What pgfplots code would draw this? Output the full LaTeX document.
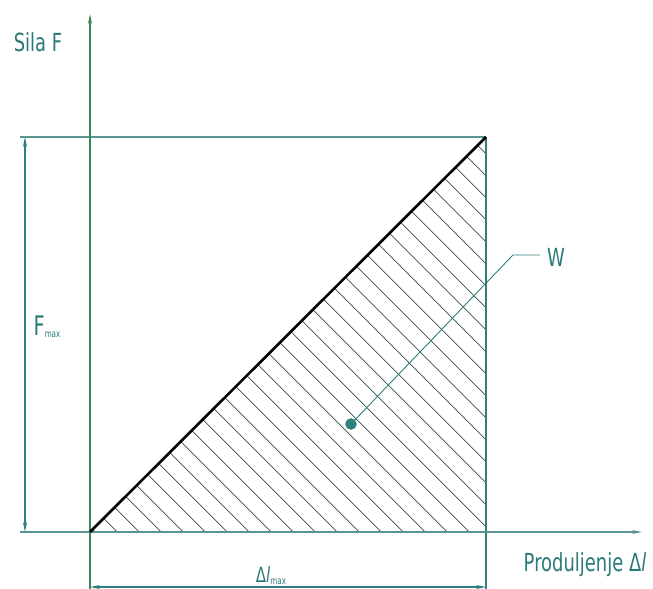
\documentclass[border=0pt]{standalone}
\usepackage{pgfplots}
\pgfplotsset{compat=1.18}
\usetikzlibrary{arrows.meta,patterns.meta}
\usepackage{fontspec}
\setmainfont{DejaVu Sans}[FakeStretch=0.72]
\definecolor{ygreen}{HTML}{3A8A55}
\definecolor{xteal}{HTML}{5A9490}
\definecolor{dimteal}{HTML}{2F7F7F}
\definecolor{labteal}{HTML}{2A7A78}
\definecolor{hatchc}{HTML}{4A635D}

\begin{document}
\begin{tikzpicture}[
  tip/.style={-{Stealth[length=10bp,width=4bp]}},
  dtip/.style={{Stealth[length=10bp,width=4bp]}-{Stealth[length=10bp,width=4bp]}},
  lab/.style={font=\fontsize{25}{27}\selectfont, text=labteal, inner sep=0pt},
]
\begin{axis}[
  width=653bp, height=589bp, scale only axis,
  xmin=-90, xmax=563, ymin=-57, ymax=532,
  axis lines=none, clip=false,
]
% hatched work area
\addplot[draw=none, pattern={Lines[angle=-45,distance=15.4bp,line width=0.85bp]},
  pattern color=hatchc] coordinates {(0,0) (396,0) (396,395) (0,0)};
% frame lines
\addplot[xteal, line width=1.3bp] coordinates {(-70,395) (396,395)};
\addplot[dimteal, line width=1.3bp] coordinates {(396,395) (396,-57)};
% axes
\addplot[line width=1.3bp, tip, xteal] coordinates {(-70,0) (552,0)};
\addplot[ygreen, line width=1.3bp, tip] coordinates {(0,-57) (0,518)};
% load line
\addplot[black, line width=2.6bp] coordinates {(0,0) (396,395)};
% dimension lines
\addplot[dimteal, line width=1.1bp, dtip] coordinates {(-65,0) (-65,395)};
\addplot[dimteal, line width=1.1bp, dtip] coordinates {(0,-55) (396,-55)};
% leader to W
\addplot[dimteal, line width=0.9bp] coordinates {(261,108) (423,277) (450,277)};
\addplot[only marks, mark=*, mark size=5.5bp, color=dimteal] coordinates {(261,108)};
% labels
\node[lab] at (axis cs:-52,490) {Sila F};
\node[lab] at (axis cs:495,-33) {Produljenje Δ{\itshape l}};
\node[lab] at (axis cs:466,275) {W};
\node[lab] at (axis cs:-43,205) {\fontsize{27}{29}\selectfont F\raisebox{-2bp}{\fontsize{10}{11}\selectfont max}};
\node[lab, anchor=south] at (axis cs:181,-53) {\fontsize{21}{23}\selectfont Δ{\itshape l}\raisebox{-2bp}{\fontsize{10}{11}\selectfont max}};
\end{axis}
\pgfresetboundingbox
\path (current axis.south west) rectangle (current axis.north east);
\end{tikzpicture}
\end{document}
